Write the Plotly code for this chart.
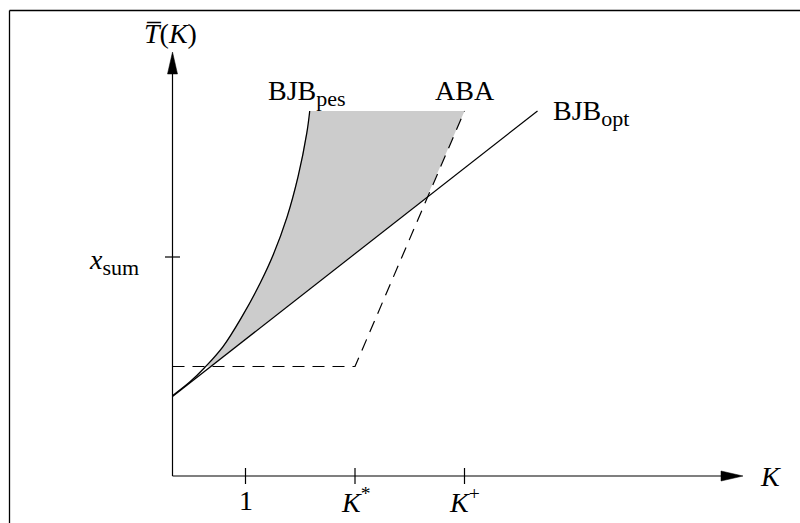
import numpy as np
import plotly.graph_objects as go

# ---------------- data ----------------
pes_x = [0.0, 0.24, 0.445, 0.69, 0.95, 1.20, 1.38, 1.57, 1.72, 1.84, 1.88]
pes_y = [1.10, 1.29, 1.49, 1.77, 2.18, 2.64, 3.03, 3.55, 4.10, 4.70, 5.00]
opt_x = [0.0, 5.0]
opt_y = [1.09, 5.0]
aba_x = [0.0, 2.5, 4.0]
aba_y = [1.5, 1.5, 5.0]
cap_level = 5.0
xtick_vals = [1, 2.5, 4]
xtick_text = ["1", "<i>K</i><sup>*</sup>", "<i>K</i><sup>+</sup>"]
ytick_vals = [3]
ytick_text = ["<i>x</i><sub><span style='font-size:22px'>sum</span></sub>"]
series_labels = ["BJB<sub><span style='font-size:22px'>pes</span></sub>", "ABA",
                 "BJB<sub><span style='font-size:22px'>opt</span></sub>"]

# ---------------- geometry (pixel mapping) ----------------
X0, Y0, S = 172.5, 476.0, 73.0
W, H = 800, 523
xr = [(0 - X0) / S, (W - X0) / S]
yr = [(Y0 - H) / S, (Y0 - 0) / S]
px = lambda p: (p - X0) / S          # pixel x -> data
py = lambda p: (Y0 - p) / S          # pixel y -> data

FONT = "Liberation Serif"
FS = 28

fig = go.Figure()

# shaded region between pessimistic curve and max(ABA, opt), capped
xg = np.linspace(0, aba_x[-1], 1201)
upper = np.minimum(np.interp(xg, pes_x, pes_y, right=cap_level), cap_level)
lower = np.maximum(np.interp(xg, aba_x, aba_y), np.interp(xg, opt_x, opt_y))
m = upper > lower
fx = np.concatenate([xg[m], xg[m][::-1]])
fy = np.concatenate([upper[m], lower[m][::-1]])
fig.add_trace(go.Scatter(x=fx, y=fy, fill="toself", fillcolor="#cccccc",
                         line=dict(width=0), mode="lines", hoverinfo="skip"))

# lines
fig.add_trace(go.Scatter(x=opt_x, y=opt_y, mode="lines",
                         line=dict(color="black", width=1.2)))
fig.add_trace(go.Scatter(x=aba_x, y=aba_y, mode="lines",
                         line=dict(color="black", width=1.2, dash="12px,8px")))
fig.add_trace(go.Scatter(x=pes_x, y=pes_y, mode="lines",
                         line=dict(color="black", width=1.3, shape="spline")))

shapes = []
# frame
shapes.append(dict(type="line", xref="paper", yref="paper", x0=9.5 / W, x1=1.0,
                   y0=1 - 10.5 / H, y1=1 - 10.5 / H, line=dict(color="black", width=1.3)))
shapes.append(dict(type="line", xref="paper", yref="paper", x0=9.5 / W, x1=9.5 / W,
                   y0=0, y1=1 - 10.5 / H, line=dict(color="black", width=1.3)))
# axes
x_tip, y_tip = px(743), py(52)
ah_len, ah_half = 22 / S, 5 / S
shapes.append(dict(type="line", x0=0, x1=x_tip - ah_len + 0.02, y0=0, y1=0,
                   line=dict(color="black", width=1.2)))
shapes.append(dict(type="line", x0=0, x1=0, y0=0, y1=y_tip - ah_len + 0.02,
                   line=dict(color="black", width=1.2)))
shapes.append(dict(type="path",
                   path=f"M {x_tip} 0 L {x_tip-ah_len} {ah_half} L {x_tip-ah_len} {-ah_half} Z",
                   fillcolor="black", line=dict(color="black", width=0.5)))
shapes.append(dict(type="path",
                   path=f"M 0 {y_tip} L {ah_half} {y_tip-ah_len} L {-ah_half} {y_tip-ah_len} Z",
                   fillcolor="black", line=dict(color="black", width=0.5)))
# ticks
tk = 8 / S
for v in xtick_vals:
    shapes.append(dict(type="line", x0=v, x1=v, y0=-tk, y1=tk,
                       line=dict(color="black", width=1.2)))
for v in ytick_vals:
    shapes.append(dict(type="line", x0=-7.5 / S, x1=7.5 / S, y0=v, y1=v,
                       line=dict(color="black", width=1.2)))

ann = []
def txt(x, y, t, xa="center", size=FS):
    ann.append(dict(x=x, y=y, text=t, showarrow=False, xanchor=xa, yanchor="middle",
                    font=dict(family=FONT, size=size, color="black")))

for v, t in zip(xtick_vals, xtick_text):
    txt(v, py(500), t)
for v, t in zip(ytick_vals, ytick_text):
    txt(px(141), v - 0.07, t, xa="right")
txt(px(770), py(476), "<i>K</i>")
txt(px(170), py(33), "<i>T\u0305</i>(<i>K</i>)")
txt(px(266), py(93), series_labels[0], xa="left")
txt(aba_x[-1], py(90), series_labels[1])
txt(px(551), py(113), series_labels[2], xa="left")

fig.update_layout(
    width=W, height=H, autosize=False,
    margin=dict(l=0, r=0, t=0, b=0),
    paper_bgcolor="white", plot_bgcolor="white",
    showlegend=False,
    xaxis=dict(range=xr, visible=False, fixedrange=True),
    yaxis=dict(range=yr, visible=False, fixedrange=True),
    shapes=shapes, annotations=ann,
)
fig.write_html("out.html", config={"displayModeBar": False},
               post_script="document.body.style.margin='0';document.body.style.overflow='hidden';")
